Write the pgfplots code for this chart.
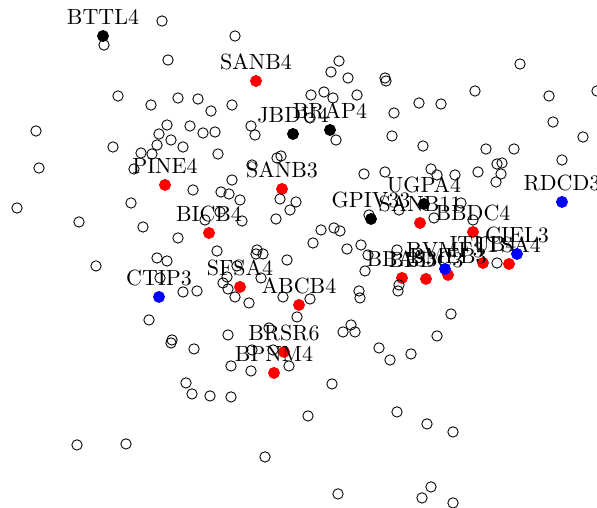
\documentclass[border=0pt]{standalone}
\usepackage{pgfplots}
\usepackage{pgfplotstable}
\pgfplotsset{compat=1.18}

% highlighted tickers, position in the map
\pgfplotstableread{
x y lab
103 36 BTTL4
293 134 JBDU4
330 130 BRAP4
371 219 GPIV33
424 204 UGPA4
}\blackpts
\pgfplotstableread{
x y lab
256 81 SANB4
165 185 PINE4
282 189 SANB3
209 233 BICB4
420 223 SANB11
473 232 BBDC4
483 263 ITUB4
509 264 ITSA4
448 275 BMEB3
402 278 BBAS3
426 279 BBDC3
240 287 SFSA4
299 305 ABCB4
284 352 BRSR6
274 373 BPNM4
}\redpts
\pgfplotstableread{
x y lab
159 297 CTIP3
562 202 RDCD3
517 254 CIEL3
445 269 BVMF3
}\bluepts
% all other tickers
\pgfplotstableread{
x y
162 21
235 36
104 45
168 60
118 96
151 105
178 98
198 99
211 111
232 105
36 131
167 125
159 134
171 140
190 126
203 133
215 132
251 126
255 135
113 147
157 145
183 147
141 153
152 154
218 154
281 156
277 158
39 168
134 169
252 165
339 61
331 72
348 78
385 78
386 81
520 64
311 95
324 92
333 98
357 95
310 118
475 91
549 96
597 91
419 103
441 104
394 113
553 122
336 140
392 136
423 146
486 149
514 149
583 137
562 160
497 164
502 163
364 174
385 172
431 169
437 175
455 175
478 172
496 182
501 174
193 190
221 192
229 194
232 180
240 200
280 199
296 202
17 208
131 203
79 222
143 227
205 220
220 212
242 221
290 210
276 219
178 238
217 251
257 250
263 254
256 254
287 260
96 266
157 258
167 261
160 278
183 292
197 291
237 266
227 277
261 278
223 283
228 289
235 297
249 303
283 297
310 299
297 317
149 320
228 335
172 340
269 328
369 215
399 210
434 218
461 203
473 220
321 230
334 228
340 231
313 243
347 249
361 245
368 255
365 271
397 250
399 285
398 291
497 263
359 291
360 298
451 314
351 325
343 332
355 332
437 336
171 343
194 349
231 366
251 371
252 350
273 350
289 366
186 383
192 394
210 396
231 397
77 445
126 444
265 457
379 348
390 360
411 354
332 384
308 416
397 412
427 424
453 432
338 494
431 487
422 498
453 503
}\otherpts

\begin{document}
\begin{tikzpicture}
\begin{axis}[
  hide axis,
  scale only axis,
  width=271.4pt, height=230.9pt,
  xmin=0, xmax=597, ymin=0, ymax=508,
  y dir=reverse,
  clip=false,
  hl/.style={only marks, mark=*, mark size=2.5pt,
    nodes near coords, point meta=explicit symbolic,
    every node near coord/.style={anchor=south, yshift=1.5pt, text=black, font=\normalsize}},
]
  \addplot[hl, black, mark options={fill=black}] table[meta=lab] {\blackpts};
  \addplot[hl, red, mark options={fill=red}] table[meta=lab] {\redpts};
  \addplot[hl, blue, mark options={fill=blue}] table[meta=lab] {\bluepts};

  \addplot[only marks, mark=o, mark size=2.35pt, black, line width=0.4pt] table {\otherpts};
\end{axis}
\pgfresetboundingbox
\useasboundingbox (current axis.south west) rectangle (current axis.north east);
\end{tikzpicture}
\end{document}
